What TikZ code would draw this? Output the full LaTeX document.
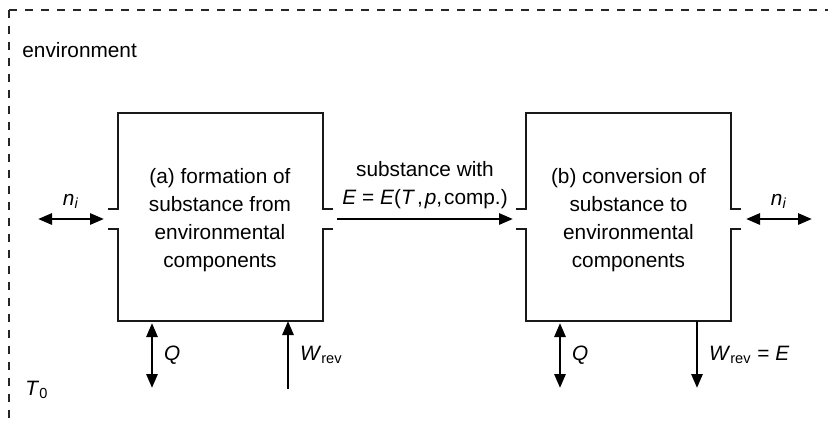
\documentclass[tikz,border=0pt]{standalone}
\usepackage{fontspec}
\setmainfont{Liberation Sans}
\usepackage{tikz}
\usetikzlibrary{arrows.meta}
\usetikzlibrary{calc}

\newcommand{\iv}[1]{\textit{#1}}
\tikzset{
	wall/.style={black!90, line width=1pt},
	envline/.style={black!85, line width=1.1pt, dash pattern=on 4pt off 4pt},
	flow/.style={black, line width=1.4pt, -{Triangle[length=7pt,width=5.5pt]}},
	twoway/.style={black, line width=1.4pt, {Triangle[length=7pt,width=5.5pt]}-{Triangle[length=7pt,width=5.5pt]}},
	boxtext/.style={align=center, font=\fontsize{10.4}{14}\selectfont}
}

\begin{document}
\begin{tikzpicture}[x=0.5pt, y=-0.5pt, font=\fontsize{10.4}{14}\selectfont]
	\useasboundingbox (0,0) rectangle (836,425);
	\draw[envline] (9,10) -- (828,10);
	\draw[envline] (9,10) -- (9,425);
	\node[anchor=base west, inner sep=0] (env) at (22,57) {environment};
	\node (tzero) at (37,390) {\iv{T}\textsubscript{0}};
	% the two boxes, open at both sides
	\foreach \x/\n in {118/A, 526/B} {
		\coordinate (\n-w) at (\x,219);
		\coordinate (\n-e) at (\x+205,219);
		\draw[wall] (\x-10,209) -- (\x,209) -- (\x,113) -- (\x+205,113) -- (\x+205,209) -- (\x+215,209);
		\draw[wall] (\x-10,229) -- (\x,229) -- (\x,321) -- (\x+205,321) -- (\x+205,229) -- (\x+215,229);
		\coordinate (\n-q) at (\x+34,321);
		\coordinate (\n-qq) at (\x+34,388);
	}
	\node[boxtext] (textA) at (220,220) {(a) formation of\\substance from\\environmental\\components};
	\node[boxtext] (textB) at (628.5,220) {(b) conversion of\\substance to\\environmental\\components};
	\coordinate (envL) at (38,219);
	\coordinate (envR) at (812,219);
	\coordinate (WA-s) at (288,389);
	\coordinate (WA-n) at (288,321);
	\coordinate (WB-n) at (697,321);
	\coordinate (WB-s) at (697,388);
	\draw[twoway] (envL) -- ($(A-w)+(-14,0)$) node[midway, above=1pt] (niA) {\iv{n}\textsubscript{\iv{i}}};
	\draw[flow] ($(A-e)+(14,0)$) -- ($(B-w)+(-13,0)$) node[midway, above=1pt, align=center] (subst) {substance with\\\iv{E} = \iv{E}(\iv{T}\kern1pt,\kern1pt\iv{p},\kern1pt comp.)};
	\draw[twoway] ($(B-e)+(15,0)$) -- (envR) node[midway, above=1pt] (niB) {\iv{n}\textsubscript{\iv{i}}};
	\draw[twoway] ($(A-q)+(0,2)$) -- (A-qq) node[midway, right=2pt] (QA) {\iv{Q}};
	\draw[twoway] ($(B-q)+(0,2)$) -- (B-qq) node[midway, right=2pt] (QB) {\iv{Q}};
	\draw[flow] (WA-s) -- (WA-n) node[midway, right=2pt] (WA) {\iv{W}\textsubscript{rev}};
	\draw[flow] (WB-n) -- (WB-s) node[midway, right=2pt] (WB) {\iv{W}\textsubscript{rev} = \iv{E}};
\end{tikzpicture}
\end{document}
